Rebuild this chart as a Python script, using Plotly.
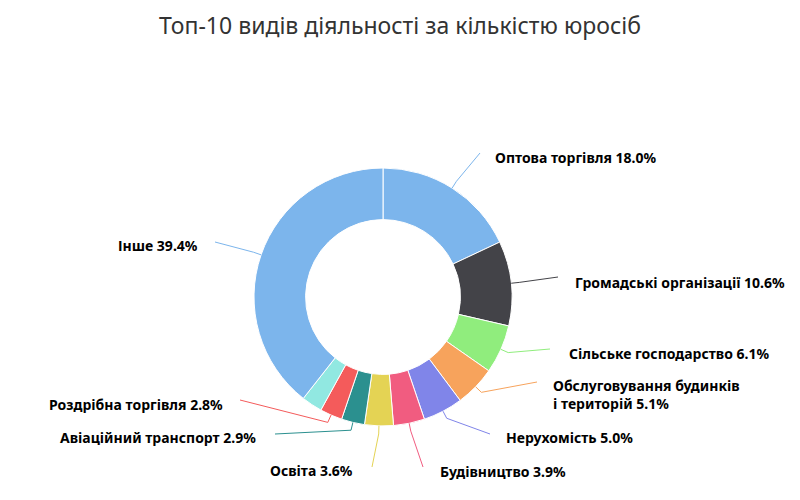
import math
import plotly.graph_objects as go

# ---- data ----
title_text = "Топ-10 видів діяльності за кількістю юросіб"
names = ["Оптова торгівля", "Громадські організації", "Сільське господарство",
         "Обслуговування будинків<br>і територій", "Нерухомість", "Будівництво",
         "Освіта", "Авіаційний транспорт", "Роздрібна торгівля", "", "Інше"]
values = [18.0, 10.6, 6.1, 5.1, 5.0, 3.9, 3.6, 2.9, 2.8, 2.6, 39.4]
show_label = [True, True, True, True, True, True, True, True, True, False, True]
colors = ["#7cb5ec", "#434348", "#90ed7d", "#f7a35c", "#8085e9", "#f15c80",
          "#e4d354", "#2b908f", "#f45b5b", "#91e8e1", "#7cb5ec"]

# ---- layout (pixels, in window coordinates) ----
W, H = 800, 500
OFF = 8  # page body margin
CX, CY, R = 383, 297, 129
label_pos = [(493, 157, "L"), (573, 282, "L"), (567, 353, "L"), (551, 394, "L"),
             (504, 437, "L"), (438, 471, "L"), (355, 470, "R"), (258, 437, "R"),
             (225, 404, "R"), None, (200, 245, "R")]
conn_end = [(480, 153), (558, 277), (550, 349), (537, 382), (490, 434),
            (423, 467), (372, 467), (275, 434), (240, 400), None, (215, 242)]

def px(x):
    return (x - OFF) / W

def py(y):
    return 1 - (y - OFF) / H

fig = go.Figure(go.Pie(
    labels=[n if n else "Інші" for n in names], values=values,
    marker=dict(colors=colors, line=dict(color="#ffffff", width=1)),
    hole=0.6, sort=False, direction="clockwise", rotation=0,
    textinfo="none", showlegend=False,
    domain=dict(x=[px(CX - R), px(CX + R)], y=[py(CY + R), py(CY - R)]),
))

total = sum(values)
cum = 0.0
shapes, annotations = [], []
for i, v in enumerate(values):
    mid = (cum + v / 2) / total * 2 * math.pi
    cum += v
    if not show_label[i]:
        continue
    sx, sy = CX + R * math.sin(mid), CY - R * math.cos(mid)
    ex_, ey_ = CX + (R + 8) * math.sin(mid), CY - (R + 8) * math.cos(mid)
    tx, ty = conn_end[i]
    path = f"M {px(sx)},{py(sy)} L {px(ex_)},{py(ey_)} L {px(tx)},{py(ty)}"
    shapes.append(dict(type="path", xref="paper", yref="paper", path=path,
                       line=dict(color=colors[i], width=1)))
    lx, ly, side = label_pos[i]
    annotations.append(dict(
        x=px(lx), y=py(ly), xref="paper", yref="paper",
        xanchor="left" if side == "L" else "right", yanchor="middle",
        align="left", showarrow=False,
        text=f"<b>{names[i]} {v:.1f}%</b>",
        font=dict(family="Noto Sans", size=14, color="#000000"),
    ))

annotations.append(dict(
    x=px(400), y=py(25), xref="paper", yref="paper",
    xanchor="center", yanchor="middle", showarrow=False,
    text=title_text,
    font=dict(family="Noto Sans", size=23, color="#333333"),
))

fig.update_layout(
    width=W, height=H,
    margin=dict(l=0, r=0, t=0, b=0),
    paper_bgcolor="#ffffff", plot_bgcolor="#ffffff",
    shapes=shapes, annotations=annotations,
)

fig.write_html("out.html")
